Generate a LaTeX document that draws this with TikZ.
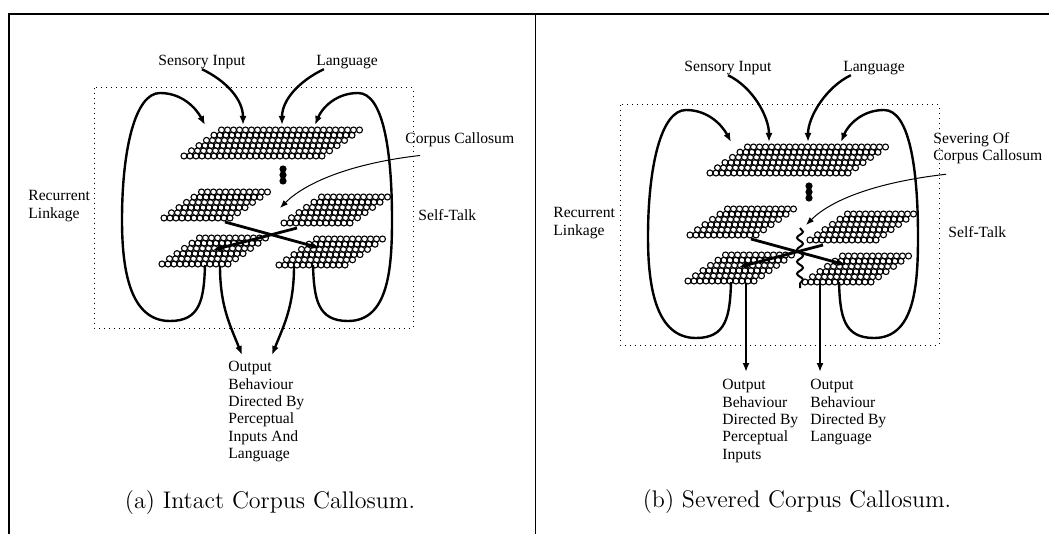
\documentclass[tikz,border=0pt]{standalone}
\usepackage{fontspec}
\newfontfamily\labelfont{Liberation Serif}
\usetikzlibrary{positioning,calc,arrows.meta,decorations.pathmorphing}

% one layer of units: bottom-left centre, number of columns
\newcommand{\cellplane}[3]{%
  \foreach \r in {0,...,5}
    \foreach \c in {1,...,#3}
      \draw[cell] ({#1+(\c-1)*6+\r*7.5},{#2-\r*5.2}) circle (1.5pt);
}

% the network of one panel, #1 prefixes the coordinates
\newcommand{\hemispheres}[1]{%
  \draw[box] (94,88) rectangle (413,328);
  \cellplane{184}{156}{24}
  \cellplane{164}{218}{12}
  \cellplane{284}{223}{12}
  \cellplane{162}{264}{12}
  \cellplane{279}{265}{12}
  \foreach \y in {169,175,181}
    \fill (283,\y) circle (1.8pt);
  \coordinate (#1inL) at (205,125);
  \coordinate (#1inS) at (243,125);
  \coordinate (#1inT) at (282,125);
  \coordinate (#1inR) at (315,125);
  \coordinate (#1loL) at (205,265);
  \coordinate (#1loR) at (313,265);
  \coordinate (#1outL) at (220,266);
  \coordinate (#1outR) at (294,266);
  \coordinate (#1xL) at (225,222);
  \coordinate (#1xR) at (297,228);
  \coordinate (#1xL2) at (213,250);
  \coordinate (#1xR2) at (320,248);
  \coordinate (#1cc) at (280,208);
  % recurrent links
  \draw[wire] (#1loL) .. controls (204,300) and (200,321) .. (170,321)
     .. controls (130,321) and (122,270) .. (122,220)
     .. controls (122,150) and (135,93) .. (160,93)
     .. controls (182,93) and (196,108) .. (#1inL);
  \draw[wire] (#1loR) .. controls (314,300) and (318,321) .. (348,321)
     .. controls (388,321) and (392,270) .. (392,220)
     .. controls (392,150) and (383,93) .. (358,93)
     .. controls (336,93) and (322,108) .. (#1inR);
  % crossing connections
  \draw[wire,line width=1.4pt] (#1xL) -- (#1xR2);
  \draw[wire,line width=1.4pt] (#1xR) -- (#1xL2);
}

\begin{document}
\begin{tikzpicture}[x=0.5pt,y=-0.5pt]
\tikzstyle{cell}=[line width=0.55pt];
\tikzstyle{lbl}=[font=\labelfont\fontsize{7.8}{8.7}\selectfont,inner sep=0pt];
\tikzstyle{capt}=[font=\fontsize{12}{14}\selectfont,inner sep=0pt];
\tikzstyle{box}=[dotted,line width=0.5pt];
\tikzstyle{wire}=[line width=1.2pt,-{Latex[length=4.5pt,width=3.5pt]}];
\tikzstyle{fine}=[line width=0.5pt,-{Latex[length=4pt,width=3pt]}];

\useasboundingbox (0,0) rectangle (1053,534);
\draw[line width=1.1pt] (9,534) -- (9,14) -- (1049,14);
\draw[line width=0.5pt] (535,14) -- (535,534);

% (a) intact
\hemispheres{a}
\node[lbl] (sensA) at (202,62) {Sensory Input};
\node[lbl] (langA) at (347,62) {Language};
\draw[wire] (sensA.south) .. controls +(25,12) and +(0,-25) .. (ainS);
\draw[wire] ($(langA.south west)+(8,0)$) .. controls +(-25,12) and +(0,-25) .. (ainT);
\node[lbl,anchor=west] (ccA) at (405,140) {Corpus Callosum};
\draw[fine] ($(ccA.south west)+(15,8)$) .. controls +(-70,8) and +(25,-25) .. (acc);
\node[lbl,anchor=west,align=left] (recA) at (28,206) {Recurrent\\Linkage};
\node[lbl,anchor=west] (talkA) at (418,215) {Self-Talk};
\node[lbl,anchor=north west,align=left] (outA) at (228,361)
  {Output\\Behaviour\\Directed By\\Perceptual\\Inputs And\\Language};
\draw[wire] (aoutL) .. controls +(0,40) and +(-12,-30) .. ($(outA.north west)+(14,-6)$);
\draw[wire] (aoutR) .. controls +(0,40) and +(12,-30) .. ($(outA.north west)+(44,-6)$);
\node[capt] (capA) at (270,503) {(a) Intact Corpus Callosum.};

% (b) severed
\begin{scope}[shift={(526,17)}]
  \hemispheres{b}
  \coordinate (bcutT) at (274,211);
  \coordinate (bcutB) at (274,271);
  \draw[line width=1pt,decorate,decoration={snake,amplitude=1.5pt,segment length=6pt}] (bcutT) -- (bcutB);
\end{scope}
\node[lbl] (sensB) at (728,68) {Sensory Input};
\node[lbl] (langB) at (874,68) {Language};
\draw[wire] (sensB.south) .. controls +(25,12) and +(0,-25) .. (binS);
\draw[wire] ($(langB.south west)+(8,0)$) .. controls +(-25,12) and +(0,-25) .. (binT);
\node[lbl,anchor=west,align=left] (ccB) at (933,148) {Severing Of\\Corpus Callosum};
\draw[fine] ($(ccB.south west)+(13,10)$) .. controls +(-70,8) and +(25,-25) .. (bcc);
\node[lbl,anchor=west,align=left] (recB) at (553,223) {Recurrent\\Linkage};
\node[lbl,anchor=west] (talkB) at (948,232) {Self-Talk};
\node[lbl,anchor=north west,align=left] (outB1) at (722,379)
  {Output\\Behaviour\\Directed By\\Perceptual\\Inputs};
\node[lbl,anchor=north west,align=left] (outB2) at (810,379)
  {Output\\Behaviour\\Directed By\\Language};
\draw[wire] (boutL) -- ($(boutL |- outB1.north)+(0,-7)$);
\draw[wire] (boutR) -- ($(boutR |- outB2.north)+(0,-7)$);
\node[capt] (capB) at (797,502) {(b) Severed Corpus Callosum.};

\end{tikzpicture}
\end{document}
